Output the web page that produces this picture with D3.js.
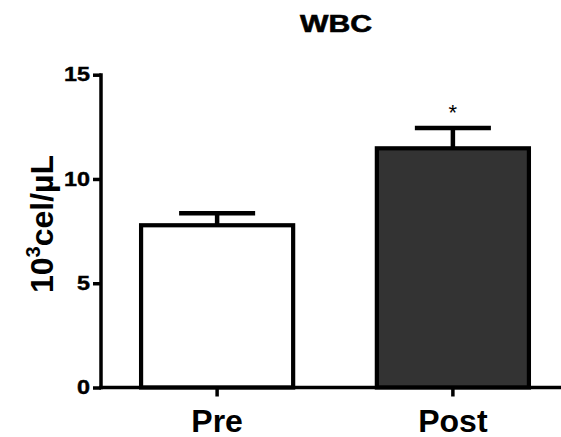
<!DOCTYPE html>
<html>
<head>
<meta charset="utf-8">
<script src="https://cdn.jsdelivr.net/npm/d3@7"></script>
<style>
    html, body { margin: 0; padding: 0; background: #fff; }
    svg { display: block; font-family: "Liberation Sans", Arial, sans-serif; }
</style>
</head>
<body>
<svg id="chart" width="561" height="437"></svg>
<script>
// Data
const groups = ['Pre', 'Post'];
const means = [7.78, 11.47];
const errors = [0.58, 0.98];
const fills = ['#ffffff', '#333333'];
const marks = ['', '*'];
const yTicks = [0, 5, 10, 15];

const svg = d3.select('#chart');

// Scales
const x = d3.scaleBand()
    .domain(groups)
    .range([101, 569])
    .paddingInner(0.355)
    .paddingOuter(0.17);

const y = d3.scaleLinear()
    .domain([0, 15])
    .range([387.5, 74.7]);

// Title (the reference glyphs are drawn wider and heavier than the font)
svg.append('text')
    .attr('x', 336)
    .attr('y', 32)
    .attr('text-anchor', 'middle')
    .attr('font-size', 24)
    .attr('font-weight', 'bold')
    .attr('stroke', '#000')
    .attr('stroke-width', 0.6)
    .attr('textLength', 72)
    .attr('lengthAdjust', 'spacingAndGlyphs')
    .text('WBC');

// Y axis label
const yLabel = svg.append('text')
    .attr('transform', 'translate(53,224) rotate(-90)')
    .attr('text-anchor', 'middle')
    .attr('font-size', 32)
    .attr('font-weight', 'bold');
yLabel.append('tspan').text('10');
yLabel.append('tspan').attr('font-size', 20).attr('dy', -13).text('3');
yLabel.append('tspan').attr('dy', 13).text('cel/µL');

// Bars
const bars = svg.append('g');
bars.selectAll('rect')
    .data(groups)
    .enter()
    .append('rect')
    .attr('x', d => x(d))
    .attr('y', (d, i) => y(means[i]))
    .attr('width', x.bandwidth())
    .attr('height', (d, i) => y(0) - y(means[i]))
    .attr('fill', (d, i) => fills[i])
    .attr('stroke', '#000')
    .attr('stroke-width', 4.2);

// Error bars (upper only)
const err = svg.append('g').attr('stroke', '#000').attr('stroke-width', 4.5);
err.selectAll('line.stem')
    .data(groups)
    .enter()
    .append('line')
    .attr('class', 'stem')
    .attr('x1', d => x(d) + x.bandwidth() / 2)
    .attr('x2', d => x(d) + x.bandwidth() / 2)
    .attr('y1', (d, i) => y(means[i]))
    .attr('y2', (d, i) => y(means[i] + errors[i]));
err.selectAll('line.cap')
    .data(groups)
    .enter()
    .append('line')
    .attr('class', 'cap')
    .attr('x1', d => x(d) + x.bandwidth() / 4)
    .attr('x2', d => x(d) + x.bandwidth() * 3 / 4)
    .attr('y1', (d, i) => y(means[i] + errors[i]))
    .attr('y2', (d, i) => y(means[i] + errors[i]));

// Significance marks
svg.append('g').selectAll('text')
    .data(groups)
    .enter()
    .append('text')
    .attr('x', d => x(d) + x.bandwidth() / 2)
    .attr('y', (d, i) => y(means[i] + errors[i]) - 8)
    .attr('text-anchor', 'middle')
    .attr('font-size', 22)
    .text((d, i) => marks[i]);

// Y axis
const yAxis = svg.append('g')
    .attr('transform', 'translate(101,0)')
    .call(d3.axisLeft(y).tickValues(yTicks).tickSize(8).tickPadding(3).tickSizeOuter(0));
yAxis.select('.domain').attr('stroke-width', 3.5).attr('d', `M0,${y(15) - 1.5}V${y(0) + 1.7}`);
yAxis.selectAll('.tick line').attr('stroke-width', 3.5);
yAxis.selectAll('.tick text')
    .attr('font-size', 19.5)
    .attr('font-weight', 'bold')
    .attr('font-family', '"Liberation Sans", Arial, sans-serif')
    .attr('fill', '#000')
    .attr('stroke', '#000')
    .attr('stroke-width', 0.4)
    .attr('lengthAdjust', 'spacingAndGlyphs')
    .attr('textLength', function() { return this.getComputedTextLength() * 1.2; });

// X axis
const xAxis = svg.append('g')
    .attr('transform', `translate(0,${y(0)})`)
    .call(d3.axisBottom(x).tickSize(9).tickPadding(12).tickSizeOuter(0));
xAxis.select('.domain').attr('stroke-width', 3.5).attr('d', 'M99,0H561');
xAxis.selectAll('.tick line').attr('stroke-width', 3.5);
xAxis.selectAll('.tick text')
    .attr('font-size', 32)
    .attr('font-weight', 'bold')
    .attr('font-family', '"Liberation Sans", Arial, sans-serif')
    .attr('fill', '#000')
    .attr('dy', null)
    .attr('y', 44);
</script>
</body>
</html>
